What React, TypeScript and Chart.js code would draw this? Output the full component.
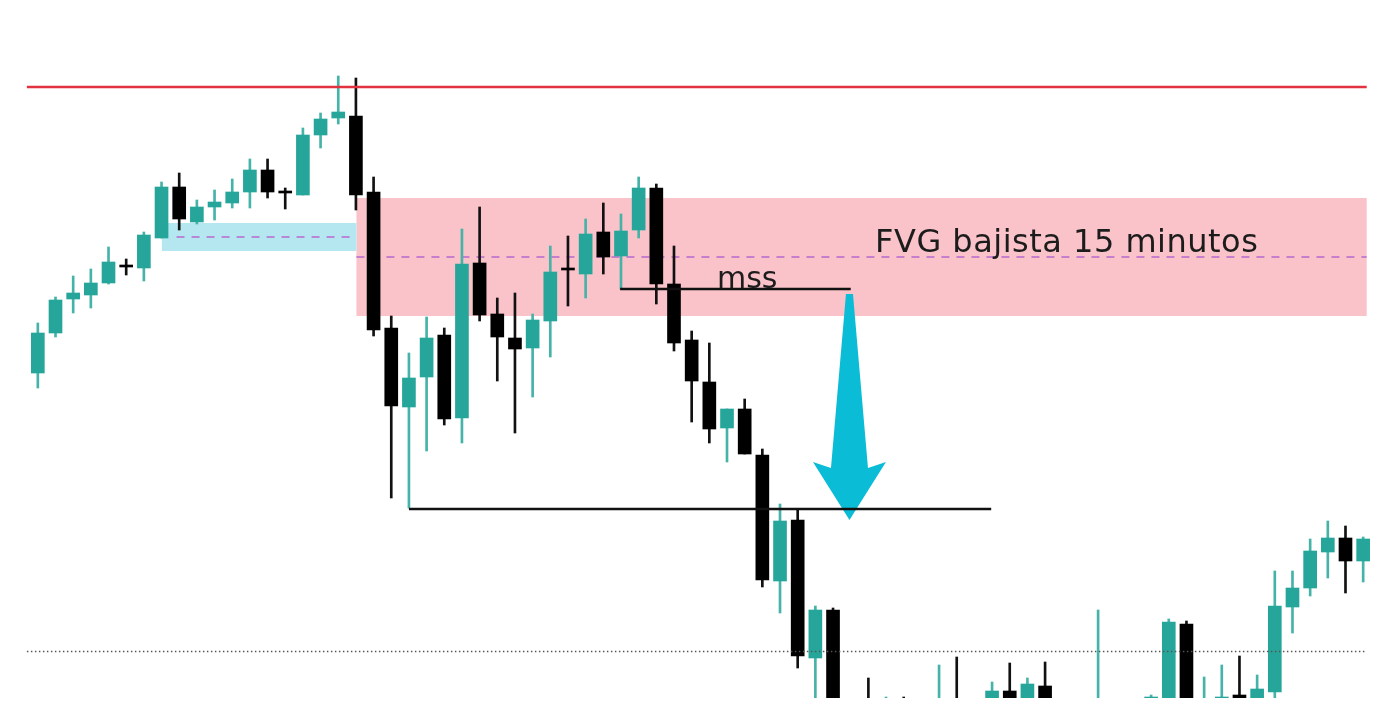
import { useEffect, useRef } from "react";
import { Chart, registerables } from "chart.js";

Chart.register(...registerables);

// OHLC values (price points), one entry per candle
const opens = [439, 479, 513, 517, 529, 546, 544, 574, 625, 590, 605, 609, 620, 642, 620, 617, 677, 694, 696, 620,
  484, 405, 435, 477, 394, 549, 498, 474, 464, 491, 543, 538, 580, 556, 582, 624, 528, 472, 430, 384,
  403, 357, 231, 292, 154, 202, 105, 110, 95, 105, 100, 95, 110, 102, 97, 121, 100, 126, 98, 108,
  100, 105, 98, 110, 105, 188, 102, 113, 117, 113, 120, 205, 224, 260, 274, 251];
const closes = [479, 512, 519, 529, 550, 545, 577, 625, 593, 605, 610, 620, 642, 620, 619, 677, 693, 700, 617, 482,
  406, 434, 474, 393, 548, 497, 475, 463, 492, 540, 542, 578, 555, 581, 624, 528, 469, 431, 383, 403,
  358, 232, 291, 156, 202, 100, 95, 95, 105, 95, 108, 108, 100, 110, 121, 98, 128, 99, 108, 100,
  110, 98, 105, 115, 190, 103, 109, 115, 113, 123, 206, 224, 261, 274, 251, 273];
const highs = [489, 515, 536, 543, 565, 553, 580, 630, 639, 612, 622, 633, 653, 653, 624, 684, 699, 736, 734, 635,
  496, 459, 495, 484, 583, 605, 514, 519, 498, 566, 576, 593, 609, 598, 635, 628, 566, 481, 469, 403,
  413, 363, 308, 302, 206, 204, 110, 134, 115, 115, 110, 147, 155, 112, 130, 149, 134, 150, 112, 111,
  202, 110, 110, 117, 193, 191, 135, 147, 156, 137, 241, 241, 273, 291, 286, 275];
const lows = [424, 475, 499, 504, 528, 537, 531, 574, 582, 588, 592, 604, 604, 614, 603, 617, 664, 688, 602, 476,
  314, 304, 361, 387, 369, 491, 431, 379, 415, 455, 506, 514, 538, 523, 574, 508, 461, 390, 369, 350,
  358, 225, 199, 144, 90, 90, 85, 90, 90, 90, 92, 90, 95, 95, 92, 94, 95, 94, 94, 95,
  95, 92, 94, 104, 100, 98, 96, 110, 110, 108, 110, 179, 216, 234, 219, 230];

const labels = opens.map((_, i) => String(i + 1));

// price levels of the drawn annotations
const resistanceLevel = 725;
const fvgTop = 614;
const fvgBottom = 496;
const fvgMid = 555;
const obTop = 589;
const obBottom = 561;
const obMid = 575;
const mssLevel = 523;
const sweepLevel = 303;
const dottedLevel = 160.5;
const arrowFrom = 518;
const arrowTo = 292;
const arrowHeadBase = 350;

const TEAL = "#26a69a";
const TEAL_WICK = "#45b3a8";
const BLACK = "#000000";

const overlayPlugin = {
  id: "fvgOverlay",
  beforeDatasetsDraw(chart: any) {
    const { ctx, scales } = chart;
    const x = scales.x;
    const y = scales.y;
    const X = (v: number) => x.getPixelForValue(v);
    const Y = (v: number) => y.getPixelForValue(v);
    ctx.save();
    // FVG zone
    ctx.fillStyle = "#f9c3c9";
    ctx.fillRect(X(18.03), Y(fvgTop), X(75.2) - X(18.03), Y(fvgBottom) - Y(fvgTop));
    // blue zone
    ctx.fillStyle = "#b5e7f0";
    ctx.fillRect(X(7.02), Y(obTop), X(18.03) - X(7.02), Y(obBottom) - Y(obTop));
    // dashed mid lines
    ctx.strokeStyle = "#b868d0";
    ctx.lineWidth = 1.5;
    ctx.setLineDash([8, 7]);
    ctx.beginPath();
    ctx.moveTo(X(7.85), Y(obMid));
    ctx.lineTo(X(17.95), Y(obMid));
    ctx.stroke();
    ctx.beginPath();
    ctx.moveTo(X(18.03), Y(fvgMid));
    ctx.lineTo(X(75.2), Y(fvgMid));
    ctx.stroke();
    ctx.restore();
  },
  afterDatasetsDraw(chart: any) {
    const { ctx, scales } = chart;
    const x = scales.x;
    const y = scales.y;
    const X = (v: number) => x.getPixelForValue(v);
    const Y = (v: number) => y.getPixelForValue(v);
    ctx.save();
    // arrow
    const cx = X(45.93);
    const top = Y(arrowFrom);
    const tip = Y(arrowTo);
    const hb = Y(arrowHeadBase);
    ctx.fillStyle = "#0bbcd6";
    ctx.beginPath();
    ctx.moveTo(cx - 3.5, top);
    ctx.lineTo(cx + 3.5, top);
    ctx.lineTo(cx + 18.5, hb + 6);
    ctx.lineTo(cx + 36.5, hb);
    ctx.lineTo(cx, tip);
    ctx.lineTo(cx - 36.5, hb);
    ctx.lineTo(cx - 18.5, hb + 6);
    ctx.closePath();
    ctx.fill();

    // solid black lines
    ctx.strokeStyle = "#111111";
    ctx.lineWidth = 2.5;
    ctx.beginPath();
    ctx.moveTo(X(32.95), Y(mssLevel));
    ctx.lineTo(X(46.0), Y(mssLevel));
    ctx.stroke();
    ctx.beginPath();
    ctx.moveTo(X(21.0), Y(sweepLevel));
    ctx.lineTo(X(53.95), Y(sweepLevel));
    ctx.stroke();

    // red resistance line
    ctx.strokeStyle = "#e3323f";
    ctx.lineWidth = 2.5;
    ctx.beginPath();
    ctx.moveTo(X(-0.62), Y(resistanceLevel));
    ctx.lineTo(X(75.2), Y(resistanceLevel));
    ctx.stroke();

    // dotted line
    ctx.strokeStyle = "#555555";
    ctx.lineWidth = 1.5;
    ctx.setLineDash([1.5, 2.5]);
    ctx.beginPath();
    ctx.moveTo(X(-0.62), Y(dottedLevel));
    ctx.lineTo(X(75.1), Y(dottedLevel));
    ctx.stroke();
    ctx.setLineDash([]);

    // texts
    ctx.fillStyle = "#1c1c1c";
    ctx.textBaseline = "alphabetic";
    ctx.textAlign = "left";
    ctx.font = '32px "DejaVu Sans"';
    try { (ctx as any).letterSpacing = "0.5px"; } catch (e) {}
    ctx.fillText("FVG bajista 15 minutos", X(47.38), Y(560));
    try { (ctx as any).letterSpacing = "0px"; } catch (e) {}
    ctx.font = '30px "DejaVu Sans"';
    ctx.fillText("mss", X(38.43), Y(524));
    ctx.restore();
  },
};

export default function App() {
  const ref = useRef<HTMLCanvasElement | null>(null);
  useEffect(() => {
    if (!ref.current) return;
    const bodyColor = (c: any) => (closes[c.dataIndex] >= opens[c.dataIndex] ? TEAL : BLACK);
    const wickColor = (c: any) => (closes[c.dataIndex] >= opens[c.dataIndex] ? TEAL_WICK : "#111111");
    const chart = new Chart(ref.current, {
      type: "bar",
      data: {
        labels,
        datasets: [
          {
            label: "wick",
            data: lows.map((l, i) => [l, highs[i]]) as any,
            backgroundColor: wickColor,
            barThickness: 2,
            grouped: false,
            order: 2,
          } as any,
          {
            label: "body",
            data: opens.map((o, i) => [o, closes[i]]) as any,
            backgroundColor: bodyColor,
            barThickness: 13,
            minBarLength: 2,
            grouped: false,
            order: 1,
          } as any,
        ],
      },
      options: {
        animation: false,
        responsive: false,
        layout: { padding: { left: 29, right: 28, top: 0, bottom: 14 } },
        plugins: { legend: { display: false }, tooltip: { enabled: false } },
        scales: {
          x: { display: false, offset: true, grid: { display: false } },
          y: { display: false, min: 114, max: 812, grid: { display: false } },
        },
      },
      plugins: [overlayPlugin],
    });
    return () => chart.destroy();
  }, []);
  return (
    <div style={{ position: "fixed", left: 0, top: 0, width: 1400, height: 712, background: "#ffffff" }}>
      <canvas ref={ref} width={1400} height={712} style={{ display: "block" }} />
    </div>
  );
}
